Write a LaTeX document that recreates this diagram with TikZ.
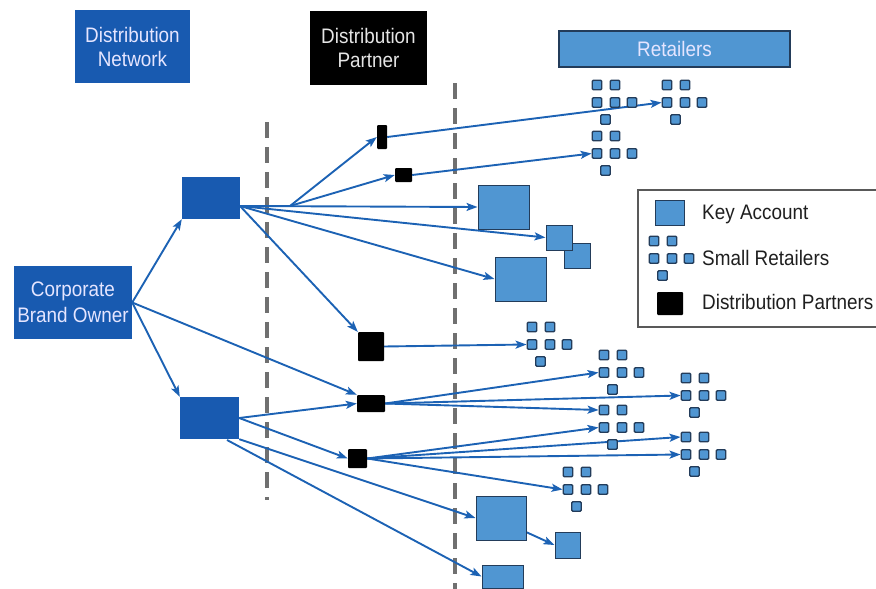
\documentclass[tikz,border=0pt]{standalone}
\usepackage{fontspec}
\setmainfont{Liberation Sans}[FakeStretch=0.9]
\usetikzlibrary{arrows.meta}
\definecolor{dblue}{RGB}{24,90,176}
\definecolor{ablue}{RGB}{28,98,180}
\definecolor{lblue}{RGB}{80,150,210}
\definecolor{bord}{RGB}{35,60,90}
\definecolor{dashgray}{RGB}{112,112,112}
\pgfdeclarelayer{bg}
\pgfsetlayers{bg,main}
\newcommand\mycluster[3]{%
 \node[sqr] (#1-1) at (#2,#3) {};
 \node[sqr] (#1-2) at ({#2+18},#3) {};
 \node[sqr] (#1-3) at (#2,{#3+17.5}) {};
 \node[sqr] (#1-4) at ({#2+18},{#3+17.5}) {};
 \node[sqr] (#1-5) at ({#2+35},{#3+17.5}) {};
 \node[sqr] (#1-6) at ({#2+8.5},{#3+34.5}) {};
}
\tikzset{
 bigfont/.style={font=\fontsize{21}{24}\selectfont},
 bluebox/.style={fill=dblue, draw=none, inner sep=0pt, align=center, text=white!90!blue, bigfont},
 blackbox/.style={fill=black, rounded corners=1pt, inner sep=0pt, align=center, text=white!90!black, bigfont},
 keyacc/.style={fill=lblue, draw=bord, line width=1pt, inner sep=0pt},
 sqr/.style={fill=lblue, draw=bord, line width=1.4pt, rounded corners=1.2pt, minimum size=9.5pt, inner sep=0pt},
 conn/.style={draw=ablue, line width=1.9pt, -{Stealth[length=11pt,width=8pt,inset=2.5pt]}},
 plain/.style={draw=ablue, line width=1.9pt},
 sepline/.style={draw=dashgray, line width=4pt, dash pattern=on 16pt off 9pt},
 legtext/.style={anchor=west, inner sep=0pt, text=black!88, bigfont},
}
\begin{document}
\begin{tikzpicture}[x=1pt,y=-1pt]
\useasboundingbox (0,0) rectangle (876,589);
% headers
\node[bluebox, minimum width=115pt, minimum height=73pt] (hdrDN) at (132.5,46.5) {Distribution\\Network};
\node[blackbox, rounded corners=0pt, minimum width=117pt, minimum height=74pt] (hdrDP) at (368.5,48) {Distribution\\Partner};
\node[keyacc, line width=1.2pt, minimum width=231pt, minimum height=36pt, text=white!90!blue, bigfont] (hdrR) at (674.5,49) {Retailers};
% main boxes
\node[bluebox, minimum width=118pt, minimum height=73pt, font=\fontsize{21}{25.5}\selectfont] (cbo) at (73,302.5) {Corporate\\Brand Owner};
\node[bluebox, minimum width=58pt, minimum height=42pt] (dnU) at (211,198) {};
\node[bluebox, minimum width=59pt, minimum height=42pt] (dnL) at (209.5,418) {};
% distribution partners
\node[blackbox, minimum width=10pt, minimum height=24pt] (dpT) at (382,137) {};
\node[blackbox, minimum width=17pt, minimum height=14pt] (dpS) at (403.5,175) {};
\node[blackbox, minimum width=26pt, minimum height=29pt] (dp1) at (371,346.5) {};
\node[blackbox, minimum width=28pt, minimum height=17pt] (dp2) at (371,403.5) {};
\node[blackbox, minimum width=19pt, minimum height=19pt] (dp3) at (357.5,458.5) {};
% key accounts
\node[keyacc, minimum width=51pt, minimum height=44pt] (ka1) at (503.5,207) {};
\node[keyacc, minimum width=26pt, minimum height=25pt] (ka3) at (577,255.5) {};
\node[keyacc, minimum width=26pt, minimum height=25pt] (ka2) at (559,237.5) {};
\node[keyacc, minimum width=51pt, minimum height=44pt] (ka4) at (520.5,279) {};
\node[keyacc, minimum width=50pt, minimum height=44pt] (ka5) at (501,518) {};
\node[keyacc, minimum width=25pt, minimum height=26pt] (ka6) at (567.5,545) {};
\node[keyacc, minimum width=41pt, minimum height=23pt] (ka7) at (502.5,576.5) {};
% small retailer clusters
\mycluster{A}{597}{85}
\mycluster{B}{667}{85}
\mycluster{C}{597}{136}
\mycluster{D}{532}{327}
\mycluster{E}{604}{355}
\mycluster{F}{686}{378}
\mycluster{G}{604}{410}
\mycluster{H}{686}{437}
\mycluster{I}{568}{472}
% legend
\node[draw=black!65, line width=1.2pt, minimum width=250pt, minimum height=137pt, inner sep=0pt] (legend) at (763,258.5) {};
\node[keyacc, minimum width=29pt, minimum height=25pt] (lgKA) at (669.5,212.5) {};
\mycluster{L}{654}{241}
\node[blackbox, minimum width=26pt, minimum height=23pt] (lgDP) at (670,303.5) {};
\node[legtext] (lt1) at (702,214) {Key Account};
\node[legtext] (lt2) at (702,258) {Small Retailers};
\node[legtext] (lt3) at (702,302) {Distribution Partners};
% helper coordinates
\coordinate (uo) at (240,206);
\coordinate (br) at (290,206);
\coordinate (lo) at (227,440);
\coordinate (k5o) at (526,532);
\begin{pgfonlayer}{bg}
\draw[sepline] (267,122) -- (267,500);
\draw[sepline] (455,83) -- (455,589);
% from corporate brand owner
\draw[conn] (cbo.east) -- (dnU.south west);
\draw[conn] (cbo.east) -- (dnL.north west);
\draw[conn] (cbo.east) -- (dp2.north west);
% from upper distribution network
\draw[plain] (uo) -- (br);
\draw[conn] (br) -- (dpT.west);
\draw[conn] (br) -- (dpS.west);
\draw[conn] (uo) -- (ka1.west);
\draw[conn] (uo) -- (ka2.west);
\draw[conn] (uo) -- (ka4.west);
\draw[conn] (uo) -- (dp1.north west);
% from partners (upper)
\draw[conn] (dpT.east) -- (B-3.west);
\draw[conn] (dpS.east) -- (C-3.west);
\draw[conn] (dp1.east) -- (D-3.west);
% from lower distribution network
\draw[conn] (dnL.east) -- (dp2.west);
\draw[conn] (dnL.east) -- (dp3.west);
\draw[conn] (dnL.south east) -- (ka5.west);
\draw[conn] (lo) -- (ka7.west);
\draw[conn] (k5o) -- (ka6.west);
% from partners (lower)
\draw[conn] (dp2.east) -- (E-3.west);
\draw[conn] (dp2.east) -- (F-3.west);
\draw[conn] (dp2.east) -- (G-1.west);
\draw[conn] (dp3.east) -- (G-3.west);
\draw[conn] (dp3.east) -- (H-1.west);
\draw[conn] (dp3.east) -- (H-3.west);
\draw[conn] (dp3.east) -- (I-3.west);
\end{pgfonlayer}
\end{tikzpicture}
\end{document}
